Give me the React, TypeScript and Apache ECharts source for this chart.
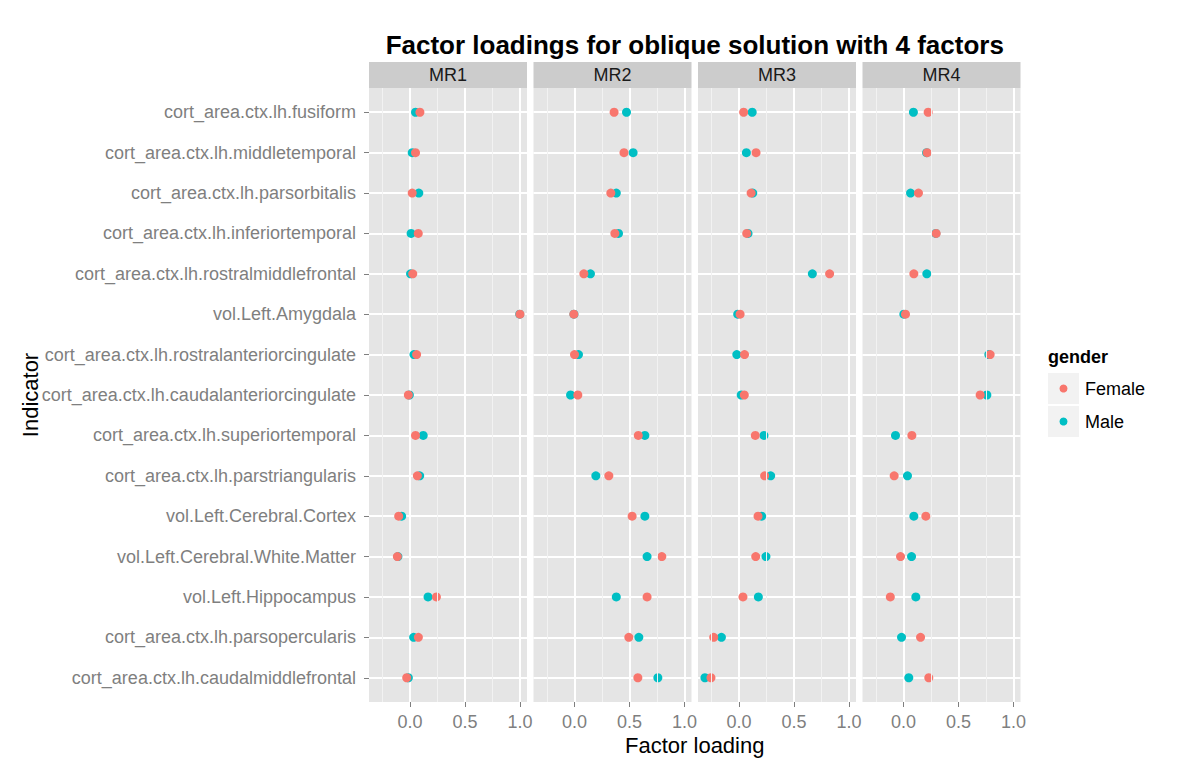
import React, { useEffect, useRef } from "react";
import * as echarts from "echarts";

const indicators = [
  "cort_area.ctx.lh.fusiform",
  "cort_area.ctx.lh.middletemporal",
  "cort_area.ctx.lh.parsorbitalis",
  "cort_area.ctx.lh.inferiortemporal",
  "cort_area.ctx.lh.rostralmiddlefrontal",
  "vol.Left.Amygdala",
  "cort_area.ctx.lh.rostralanteriorcingulate",
  "cort_area.ctx.lh.caudalanteriorcingulate",
  "cort_area.ctx.lh.superiortemporal",
  "cort_area.ctx.lh.parstriangularis",
  "vol.Left.Cerebral.Cortex",
  "vol.Left.Cerebral.White.Matter",
  "vol.Left.Hippocampus",
  "cort_area.ctx.lh.parsopercularis",
  "cort_area.ctx.lh.caudalmiddlefrontal",
];

const factors = ["MR1", "MR2", "MR3", "MR4"];
const genders = ["Female", "Male"];
const xTicks = [0, 0.5, 1.0];
const xMinorTicks = [-0.25, 0.25, 0.75];

const femaleMR1 = [0.09, 0.05, 0.02, 0.075, 0.025, 1.0, 0.06, -0.015, 0.05, 0.067, -0.103, -0.115, 0.24, 0.076, -0.03];
const maleMR1 = [0.05, 0.02, 0.08, 0.01, 0.005, 0.998, 0.036, -0.006, 0.12, 0.088, -0.076, -0.11, 0.164, 0.033, -0.015];
const femaleMR2 = [0.36, 0.45, 0.33, 0.367, 0.085, -0.006, 0.0, 0.03, 0.58, 0.312, 0.524, 0.794, 0.66, 0.494, 0.576];
const maleMR2 = [0.473, 0.533, 0.38, 0.4, 0.145, -0.005, 0.036, -0.036, 0.64, 0.194, 0.64, 0.66, 0.38, 0.585, 0.758];
const femaleMR3 = [0.042, 0.155, 0.11, 0.07, 0.824, 0.01, 0.05, 0.048, 0.148, 0.233, 0.173, 0.152, 0.036, -0.23, -0.255];
const maleMR3 = [0.12, 0.067, 0.125, 0.082, 0.667, -0.012, -0.02, 0.02, 0.227, 0.288, 0.206, 0.245, 0.176, -0.16, -0.31];
const femaleMR4 = [0.224, 0.215, 0.136, 0.297, 0.094, 0.018, 0.788, 0.697, 0.076, -0.085, 0.203, -0.027, -0.12, 0.155, 0.23];
const maleMR4 = [0.09, 0.21, 0.064, 0.294, 0.212, 0.003, 0.776, 0.758, -0.073, 0.036, 0.094, 0.073, 0.112, -0.018, 0.048];

const femaleValues = [femaleMR1, femaleMR2, femaleMR3, femaleMR4];
const maleValues = [maleMR1, maleMR2, maleMR3, maleMR4];

const FEMALE = "#F8766D";
const MALE = "#00BFC4";
const FONT = "'Liberation Sans', Arial, sans-serif";

export default function App() {
  const ref = useRef<HTMLDivElement>(null);

  useEffect(() => {
    if (!ref.current) return;
    const chart = echarts.init(ref.current, undefined, { renderer: "svg" });

    const lefts = [369, 533.5, 698, 862.5];
    const panelW = 158;
    const top = 88;
    const panelH = 614;
    const yIdx = indicators.map((_, i) => i + 1);

    const grids: any[] = [];
    const xAxes: any[] = [];
    const yAxes: any[] = [];
    const series: any[] = [];
    const graphics: any[] = [];

    factors.forEach((f, g) => {
      grids.push({
        left: lefts[g],
        top,
        width: panelW,
        height: panelH,
        show: true,
        backgroundColor: "#E5E5E5",
        borderWidth: 0,
        containLabel: false,
      });
      xAxes.push({
        gridIndex: g,
        type: "value",
        position: "bottom",
        min: -0.373,
        max: 1.064,
        axisLine: { show: false, onZero: false },
        axisTick: {
          show: true,
          length: 5,
          customValues: xTicks,
          lineStyle: { color: "#7F7F7F", width: 1 },
        },
        axisLabel: {
          show: true,
          customValues: xTicks,
          formatter: (v: number) => v.toFixed(1),
          color: "#7F7F7F",
          fontSize: 18,
          fontFamily: FONT,
          margin: 11,
        },
        splitLine: { show: true, lineStyle: { color: "#FFFFFF", width: 2 } },
      });
      yAxes.push({
        gridIndex: g,
        type: "value",
        position: "left",
        inverse: true,
        min: 0.4,
        max: 15.6,
        axisLine: { show: false, onZero: false },
        axisTick: {
          show: g === 0,
          length: 5,
          customValues: yIdx,
          lineStyle: { color: "#7F7F7F", width: 1 },
        },
        axisLabel: {
          show: g === 0,
          customValues: yIdx,
          formatter: (v: number) => indicators[Math.round(v) - 1] ?? "",
          color: "#7F7F7F",
          fontSize: 18,
          fontFamily: FONT,
          margin: 13,
        },
        splitLine: { show: true, lineStyle: { color: "#FFFFFF", width: 2 } },
      });
      series.push({
        type: "scatter",
        xAxisIndex: g,
        yAxisIndex: g,
        data: [],
        silent: true,
        z: 1,
        markLine: {
          silent: true,
          symbol: "none",
          label: { show: false },
          lineStyle: { color: "#F2F2F2", width: 1, type: "solid" },
          data: xMinorTicks.map((v) => ({ xAxis: v })),
        },
      });
      series.push({
        name: "Male",
        type: "scatter",
        xAxisIndex: g,
        yAxisIndex: g,
        symbolSize: 9,
        itemStyle: { color: MALE, opacity: 1 },
        z: 3,
        data: maleValues[g].map((v, i) => [v, i + 1]),
      });
      series.push({
        name: "Female",
        type: "scatter",
        xAxisIndex: g,
        yAxisIndex: g,
        symbolSize: 9,
        itemStyle: { color: FEMALE, opacity: 1 },
        z: 4,
        data: femaleValues[g].map((v, i) => [v, i + 1]),
      });
      graphics.push({
        type: "rect",
        shape: { x: lefts[g], y: 62, width: panelW, height: 26 },
        style: { fill: "#CCCCCC" },
      });
      graphics.push({
        type: "text",
        x: lefts[g] + panelW / 2,
        y: 75,
        style: {
          text: f,
          fontSize: 18,
          fontFamily: FONT,
          fill: "#1A1A1A",
          align: "center",
          verticalAlign: "middle",
        },
      });
    });

    const centerX = (lefts[0] + lefts[3] + panelW) / 2;
    graphics.push({
      type: "text",
      x: centerX,
      y: 45,
      style: {
        text: "Factor loadings for oblique solution with 4 factors",
        fontSize: 26,
        fontWeight: "bold",
        fontFamily: FONT,
        fill: "#000000",
        align: "center",
        verticalAlign: "middle",
      },
    });
    graphics.push({
      type: "text",
      x: centerX,
      y: 745,
      style: {
        text: "Factor loading",
        fontSize: 22,
        fontFamily: FONT,
        fill: "#000000",
        align: "center",
        verticalAlign: "middle",
      },
    });
    graphics.push({
      type: "text",
      x: 30,
      y: top + panelH / 2,
      rotation: Math.PI / 2,
      style: {
        text: "Indicator",
        fontSize: 22,
        fontFamily: FONT,
        fill: "#000000",
        align: "center",
        verticalAlign: "middle",
      },
    });
    // legend
    graphics.push({
      type: "text",
      x: 1048,
      y: 357,
      style: {
        text: "gender",
        fontSize: 18,
        fontWeight: "bold",
        fontFamily: FONT,
        fill: "#000000",
        align: "left",
        verticalAlign: "middle",
      },
    });
    genders.forEach((gname, k) => {
      const y0 = 373 + k * 33;
      graphics.push({
        type: "rect",
        shape: { x: 1048, y: y0, width: 31, height: 31 },
        style: { fill: "#F2F2F2" },
      });
      graphics.push({
        type: "circle",
        shape: { cx: 1063.5, cy: y0 + 15.5, r: 4 },
        style: { fill: k === 0 ? FEMALE : MALE },
      });
      graphics.push({
        type: "text",
        x: 1085,
        y: y0 + 16,
        style: {
          text: gname,
          fontSize: 18,
          fontFamily: FONT,
          fill: "#000000",
          align: "left",
          verticalAlign: "middle",
        },
      });
    });

    chart.setOption({
      animation: false,
      backgroundColor: "#FFFFFF",
      textStyle: { fontFamily: FONT },
      grid: grids,
      xAxis: xAxes,
      yAxis: yAxes,
      series,
      graphic: graphics,
    });

    return () => chart.dispose();
  }, []);

  return (
    <div
      ref={ref}
      style={{ position: "fixed", left: 0, top: 0, width: 1200, height: 773 }}
    />
  );
}
